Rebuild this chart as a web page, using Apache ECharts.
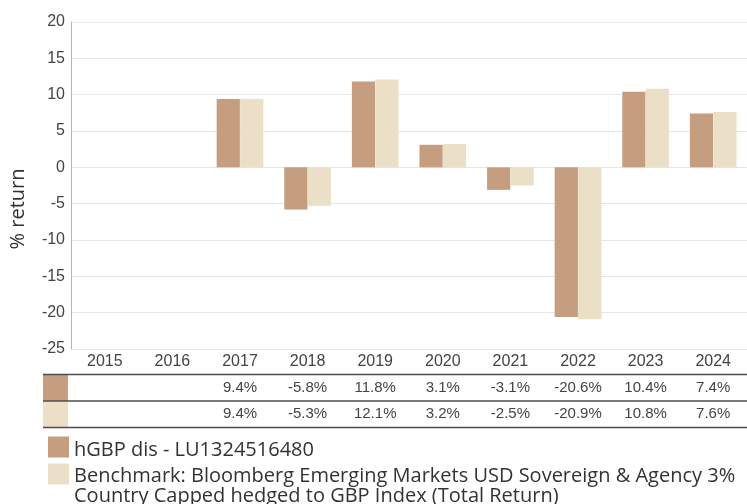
<!DOCTYPE html>
<html>
<head>
<meta charset="utf-8">
<script src="https://cdn.jsdelivr.net/npm/echarts@6/dist/echarts.min.js"></script>
<style>
  html, body { margin: 0; padding: 0; background: #fff; }
  #chart { width: 747px; height: 504px; }
</style>
</head>
<body>
<div id="chart"></div>
<script>
// 数据
const years = ['2015', '2016', '2017', '2018', '2019', '2020', '2021', '2022', '2023', '2024'];
const fundName = 'hGBP dis - LU1324516480';
const benchName = 'Benchmark: Bloomberg Emerging Markets USD Sovereign & Agency 3%\nCountry Capped hedged to GBP Index (Total Return)';
const fundReturns = [null, null, 9.4, -5.8, 11.8, 3.1, -3.1, -20.6, 10.4, 7.4];
const benchReturns = [null, null, 9.4, -5.3, 12.1, 3.2, -2.5, -20.9, 10.8, 7.6];
const yTicks = { min: -25, max: 20, interval: 5 };

const color = ['#c49e7e', '#ebe0c7'];
const txtFont = 'Liberation Sans, Arial, sans-serif';
const legendFont = 'Open Sans, sans-serif';

function pct(v) {
    return v == null ? '' : v.toFixed(1) + '%';
}

// 图例文字：前面加一行空白，把文字往下推，对齐色块
function legendText(name) {
    return '{s| }\n' + name.split('\n').map(function (l) { return '{t|' + l + '}'; }).join('\n');
}
function legendRich(spacer) {
    return {
        s: { lineHeight: spacer, fontSize: 1 },
        t: { fontSize: 20, lineHeight: 20, color: '#333', fontFamily: legendFont }
    };
}

// 表格下面的数值行，用额外的类目轴来放
function tableAxis(values, margin) {
    return {
        type: 'category',
        data: years,
        gridIndex: 0,
        position: 'bottom',
        axisLine: { show: false },
        axisTick: { show: false },
        splitLine: { show: false },
        axisLabel: {
            margin: margin,
            fontSize: 15,
            color: '#444',
            fontFamily: txtFont,
            formatter: function (val, idx) { return pct(values[idx]); }
        }
    };
}

const chart = echarts.init(document.getElementById('chart'));

const option = {
    animation: false,
    color: color,
    grid: { left: 68, right: 0, top: 22, bottom: 155 },
    legend: [{
        data: [fundName],
        left: 48, top: 436.5,
        padding: 0,
        selectedMode: false,
        icon: 'rect',
        itemWidth: 21, itemHeight: 21,
        formatter: function (name) { return legendText(name); },
        textStyle: { rich: legendRich(6) }
    }, {
        data: [benchName],
        left: 48, top: 453.5,
        padding: 0,
        selectedMode: false,
        icon: 'rect',
        itemWidth: 21, itemHeight: 21,
        formatter: function (name) { return legendText(name); },
        textStyle: { rich: legendRich(24) }
    }],
    xAxis: [{
        type: 'category',
        data: years,
        axisLine: { show: false },
        axisTick: { show: false },
        splitLine: { show: false },
        axisLabel: { margin: 5, fontSize: 16, color: '#444', fontFamily: txtFont }
    },
    tableAxis(fundReturns, 31),
    tableAxis(benchReturns, 57)
    ],
    yAxis: {
        type: 'value',
        min: yTicks.min, max: yTicks.max, interval: yTicks.interval,
        name: '% return',
        nameLocation: 'middle',
        nameRotate: 90,
        nameGap: 43,
        nameTextStyle: { fontSize: 20, color: '#333', fontFamily: legendFont, padding: [0, 47, 0, 0] },
        axisLine: { show: true, lineStyle: { color: '#b5b5b5', width: 1 } },
        axisTick: { show: false },
        splitLine: { lineStyle: { color: '#e6e6e6', width: 1 } },
        axisLabel: { margin: 6, fontSize: 16, color: '#444', fontFamily: txtFont }
    },
    series: [{
        name: fundName,
        type: 'bar',
        data: fundReturns,
        barGap: '1%',
        barCategoryGap: '31%'
    }, {
        name: benchName,
        type: 'bar',
        data: benchReturns,
        barGap: '1%',
        barCategoryGap: '31%'
    }],
    graphic: [
        // 表格左边的色块
        { type: 'rect', shape: { x: 43, y: 375, width: 25, height: 26 }, style: { fill: color[0] }, silent: true },
        { type: 'rect', shape: { x: 43, y: 401.5, width: 25, height: 25.5 }, style: { fill: color[1] }, silent: true },
        // 表格横线
        { type: 'line', shape: { x1: 43, y1: 374.5, x2: 747, y2: 374.5 }, style: { stroke: '#4d4d4d', lineWidth: 1.5 }, silent: true },
        { type: 'line', shape: { x1: 43, y1: 401, x2: 747, y2: 401 }, style: { stroke: '#4d4d4d', lineWidth: 1.5 }, silent: true },
        { type: 'line', shape: { x1: 43, y1: 427.5, x2: 747, y2: 427.5 }, style: { stroke: '#4d4d4d', lineWidth: 1.5 }, silent: true }
    ]
};

chart.setOption(option);
</script>
</body>
</html>
